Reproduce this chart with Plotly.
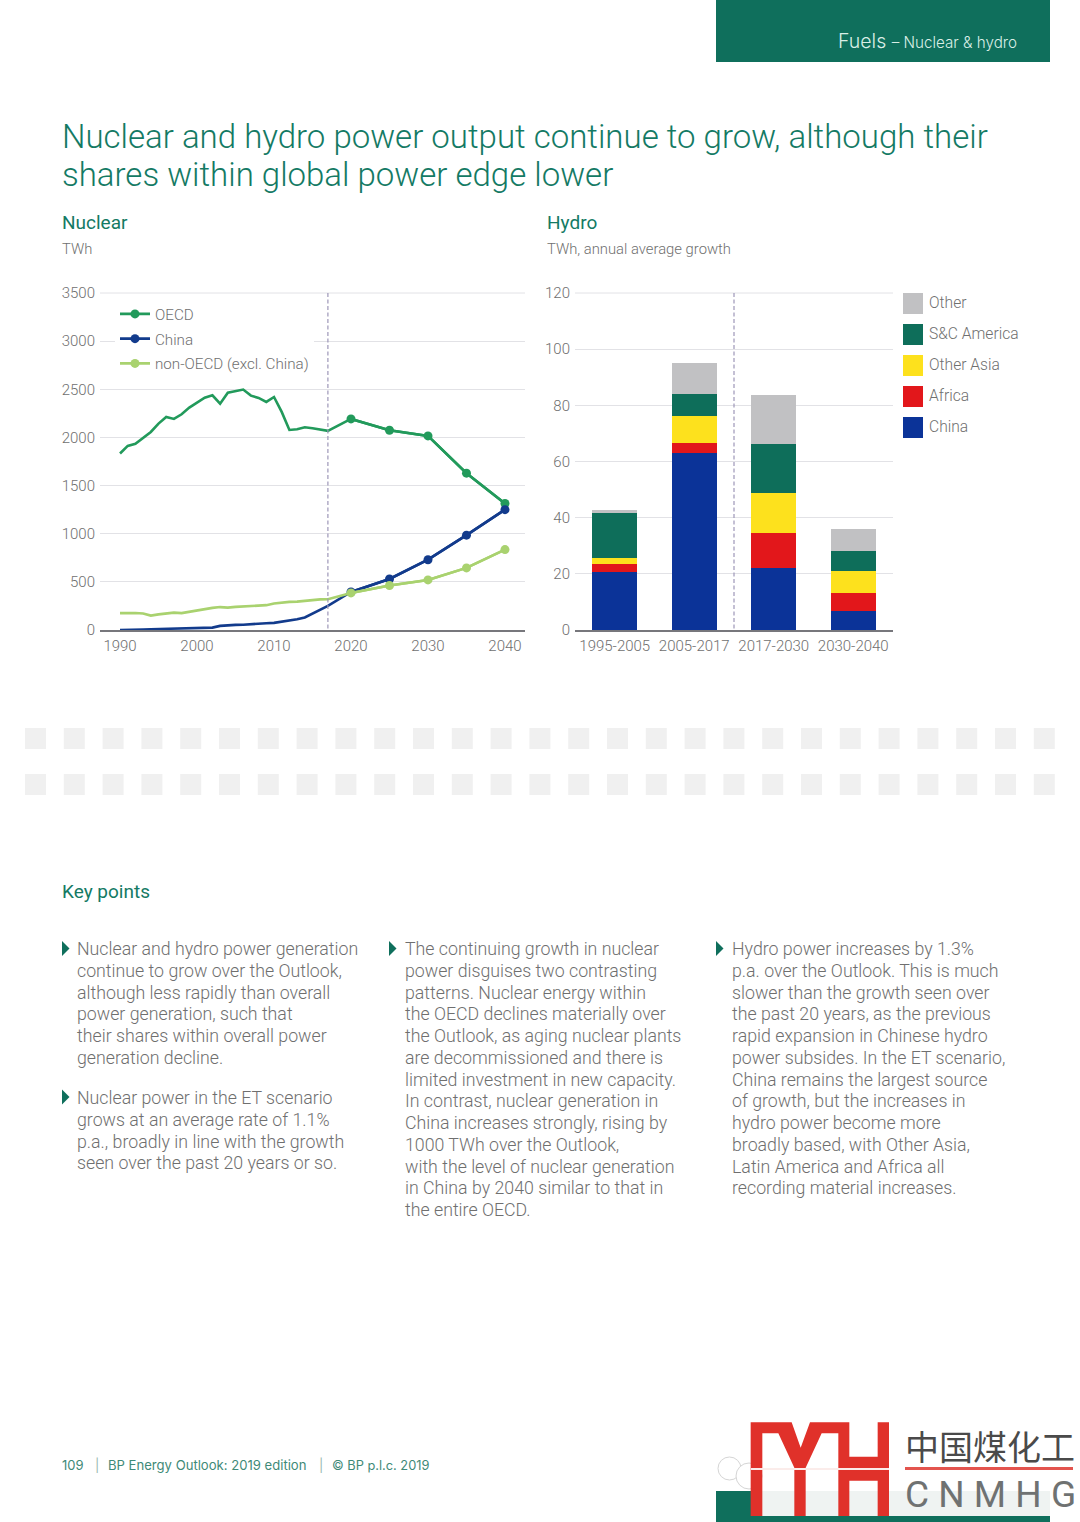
import plotly.graph_objects as go
from plotly.subplots import make_subplots

W, H = 1080, 1522
FONT = "Roboto"
WIDE = "Inter"
LIGHT = 300

years = list(range(1990, 2018)) + [2020, 2025, 2030, 2035, 2040]
oecd = [1833, 1912, 1933, 2000, 2057, 2144, 2213, 2192, 2240, 2310, 2358, 2413, 2438, 2351, 2465, 2480, 2497,
        2434, 2410, 2369, 2420, 2265, 2078, 2085, 2105, 2095, 2078, 2068, 2192, 2075, 2016, 1629, 1314]
china = [0, 0, 0, 5, 8, 10, 10, 12, 12, 13, 14, 18, 25, 43, 50, 53, 55, 62, 68, 70, 74, 86, 97, 112, 130, 170,
         210, 250, 395, 530, 730, 985, 1250]
non_oecd = [175, 178, 176, 172, 150, 162, 172, 180, 175, 190, 205, 220, 230, 238, 232, 240, 245, 250, 255, 258,
            275, 285, 292, 295, 302, 315, 318, 320, 385, 462, 520, 645, 835]

periods = ["1995-2005", "2005-2017", "2017-2030", "2030-2040"]
hydro_china = [20.5, 63.1, 22.0, 6.9]
hydro_africa = [3.1, 3.5, 12.6, 6.4]
hydro_other_asia = [2.1, 9.6, 14.3, 7.8]
hydro_sc_america = [15.9, 8.0, 17.5, 7.2]
hydro_other = [1.3, 11.0, 17.2, 7.5]

nuclear_ticks = [0, 500, 1000, 1500, 2000, 2500, 3000, 3500]
year_ticks = [1990, 2000, 2010, 2020, 2030, 2040]
hydro_ticks = [0, 20, 40, 60, 80, 100, 120]

title_lines = ["Nuclear and hydro power output continue to grow, although their",
               "shares within global power edge lower"]
col1 = ["Nuclear and hydro power generation", "continue to grow over the Outlook,", "although less rapidly than overall",
        "power generation, such that", "their shares within overall power", "generation decline."]
col1b = ["Nuclear power in the ET scenario", "grows at an average rate of 1.1%", "p.a., broadly in line with the growth",
         "seen over the past 20 years or so."]
col2 = ["The continuing growth in nuclear", "power disguises two contrasting", "patterns. Nuclear energy within",
        "the OECD declines materially over", "the Outlook, as aging nuclear plants", "are decommissioned and there is",
        "limited investment in new capacity.", "In contrast, nuclear generation in", "China increases strongly, rising by",
        "1000 TWh over the Outlook,", "with the level of nuclear generation", "in China by 2040 similar to that in",
        "the entire OECD."]
col3 = ["Hydro power increases by 1.3%", "p.a. over the Outlook. This is much", "slower than the growth seen over",
        "the past 20 years, as the previous", "rapid expansion in Chinese hydro", "power subsides. In the ET scenario,",
        "China remains the largest source", "of growth, but the increases in", "hydro power become more",
        "broadly based, with Other Asia,", "Latin America and Africa all", "recording material increases."]

GREEN = "#0f6f5c"
TITLE = "#147a64"
TXT = "#6f6f6f"
GRID = "#e2e2e6"
AXIS = "#77777c"
DASH = "#9d97b8"
OECD_C, CHINA_C, NON_C = "#229a5b", "#123b8c", "#a9d26f"
BAR = {"China": "#0b3398", "Africa": "#e2171b", "Other Asia": "#fde11d", "S&C America": "#0e6e5a", "Other": "#c1c1c3"}

fig = make_subplots(rows=1, cols=2)


def px(x):
    return x / W


def py(y):
    return 1 - y / H


annotations = []
shapes = []


def text(x, y, s, size, color=TXT, anchor="left", weight=LIGHT, family=FONT):
    f = dict(family=family, size=size, color=color, weight=weight)
    annotations.append(dict(text=s, x=px(x - 1), y=py(y), xref="paper", yref="paper", xanchor=anchor, yanchor="middle",
                            showarrow=False, font=f, borderpad=0, align="left"))


def rect(x0, y0, x1, y1, color, opacity=1, layer="below"):
    shapes.append(dict(type="rect", xref="paper", yref="paper", x0=px(x0), x1=px(x1), y0=py(y0), y1=py(y1),
                       fillcolor=color, line=dict(width=0), opacity=opacity, layer=layer))


def poly(points, color, layer="below"):
    d = "M" + " L".join(f"{px(a):.5f},{py(b):.5f}" for a, b in points) + " Z"
    shapes.append(dict(type="path", xref="paper", yref="paper", path=d, fillcolor=color, line=dict(width=0), layer=layer))


# Line chart: the whole line, then the 5-yearly projection points with markers (these carry the legend entry)
first_proj = years.index(2020)
for name, vals, col in [("OECD", oecd, OECD_C), ("China", china, CHINA_C), ("non-OECD (excl. China)", non_oecd, NON_C)]:
    fig.add_trace(go.Scatter(x=years, y=vals, name=name, mode="lines", legendgroup=name, showlegend=False,
                             line=dict(color=col, width=2.6)), row=1, col=1)
    fig.add_trace(go.Scatter(x=years[first_proj:], y=vals[first_proj:], name=name, mode="lines+markers", legendgroup=name,
                             line=dict(color=col, width=2.6), marker=dict(color=col, size=9, line=dict(width=0))),
                  row=1, col=1)

# Bars
for name, vals in [("China", hydro_china), ("Africa", hydro_africa), ("Other Asia", hydro_other_asia),
                   ("S&C America", hydro_sc_america), ("Other", hydro_other)]:
    fig.add_trace(go.Bar(x=periods, y=vals, name=name, marker=dict(color=BAR[name], line=dict(width=0)),
                         width=0.567, showlegend=False), row=1, col=2)

tickfont = dict(family=FONT, size=15, color=TXT, weight=LIGHT)
fig.update_layout(
    width=W, height=H, margin=dict(l=0, r=0, t=0, b=0, autoexpand=False), paper_bgcolor="white", plot_bgcolor="white",
    barmode="stack", autosize=False, font=dict(family=FONT),
    legend=dict(x=px(115), y=py(297.5), xanchor="left", yanchor="top", bgcolor="white",
                font=dict(family=FONT, size=15.2, color=TXT, weight=LIGHT),
                tracegroupgap=2, itemclick=False, itemdoubleclick=False, itemwidth=30, borderwidth=0),
)
# The value ranges run a hair past the top tick (one pixel).
fig.update_xaxes(row=1, col=1, domain=[px(100), px(525)], range=[1987.4, 2042.6], tickvals=year_ticks, automargin=False,
                 showgrid=False, showline=True, linecolor=AXIS, linewidth=1.5, ticks="", tickfont=tickfont, zeroline=False,
                 ticklabelstandoff=1)
fig.update_xaxes(row=1, col=2, domain=[px(575), px(893)], type="category", range=[-0.5, 3.5], showgrid=False, automargin=False,
                 showline=True, linecolor=AXIS, linewidth=1.5, ticks="", tickfont=tickfont, zeroline=False,
                 ticklabelstandoff=1)
fig.update_yaxes(row=1, col=1, domain=[py(630), py(292)], range=[0, 3500 * 338 / 337], tickvals=nuclear_ticks, gridcolor=GRID, automargin=False,
                 gridwidth=1, zeroline=False, ticks="", tickfont=tickfont, showline=False, ticklabelstandoff=4)
fig.update_yaxes(row=1, col=2, domain=[py(630), py(292)], range=[0, 120 * 338 / 337], tickvals=hydro_ticks, gridcolor=GRID, automargin=False,
                 gridwidth=1, zeroline=False, ticks="", tickfont=tickfont, showline=False, ticklabelstandoff=4)

# Top gridlines, drawn explicitly at the top tick of each value axis
shapes.append(dict(type="line", xref="x domain", yref="y", x0=0, x1=1, y0=nuclear_ticks[-1], y1=nuclear_ticks[-1],
                   line=dict(color=GRID, width=1), layer="below"))
shapes.append(dict(type="line", xref="x2 domain", yref="y2", x0=0, x1=1, y0=hydro_ticks[-1], y1=hydro_ticks[-1],
                   line=dict(color=GRID, width=1), layer="below"))

# Base-year dashed dividers (drawn from the top tick down so the dash reaches the top)
DASHSTYLE = dict(color=DASH, width=1.2, dash="4px,2.5px")
shapes.append(dict(type="line", xref="x", yref="y", x0=2017, x1=2017, y0=nuclear_ticks[-1], y1=0, line=DASHSTYLE, layer="above"))
shapes.append(dict(type="line", xref="x2", yref="y2", x0=1.5, x1=1.5, y0=hydro_ticks[-1], y1=0, line=DASHSTYLE, layer="above"))

# Bar legend
for i, name in enumerate(["Other", "S&C America", "Other Asia", "Africa", "China"]):
    top = 293 + i * 31
    rect(903, top, 923, top + 21, BAR[name])
    text(929, top + 10, name, 15.6)

# Page header
rect(716, 0, 1050, 62, GREEN)
annotations.append(dict(text='Fuels <span style="font-size:15.2px">– Nuclear &amp; hydro</span>', x=px(1019), y=py(40.5), xref="paper", yref="paper",
                        xanchor="right", yanchor="middle", showarrow=False, font=dict(family=WIDE, size=19.5, color="#d9eee6", weight=LIGHT)))
for i, s in enumerate(title_lines):
    text(62, 137 + i * 37, s, 33, TITLE)
text(62, 222, "Nuclear", 19, TITLE, weight=400)
text(62, 249, "TWh", 14.8)
text(547, 222, "Hydro", 19, TITLE, weight=400)
text(547, 249, "TWh, annual average growth", 14.8)

# Watermark squares
for y0 in (728, 774):
    for i in range(27):
        x0 = 25 + i * 38.8
        rect(x0, y0, x0 + 21, y0 + 21, "#f0f0f0")

# Key points
text(62, 892, "Key points", 19, TITLE, weight=400)
STEP = 21.75
for lines, x, y0 in [(col1, 77, 949), (col1b, 77, 1098), (col2, 405, 949), (col3, 732, 949)]:
    for i, s in enumerate(lines):
        text(x, y0 + i * STEP, s, 17.75)
for x, y in [(62, 948.5), (62, 1097), (389, 948.5), (716, 948.5)]:
    poly([(x, y - 7.5), (x + 7.5, y), (x, y + 7.5)], GREEN)

# Footer
FOOT = "#3f8a78"
text(62, 1465, "109", 13, FOOT, weight=400, family=WIDE)
text(95, 1465, "|", 13, "#9ab9b0", weight=400, family=WIDE)
text(108, 1465, "BP Energy Outlook: 2019 edition", 13.1, FOOT, weight=400, family=WIDE)
text(319, 1465, "|", 13, "#9ab9b0", weight=400, family=WIDE)
text(332, 1465, "© BP p.l.c. 2019", 12.8, FOOT, weight=400, family=WIDE)

# WeChat-style watermark bubbles
for x0, y0, x1, y1 in [(718, 1457, 741, 1480), (736, 1463, 762, 1489)]:
    shapes.append(dict(type="circle", xref="paper", yref="paper", x0=px(x0), x1=px(x1), y0=py(y0), y1=py(y1),
                       fillcolor="white", line=dict(color="#d5d5d5", width=1), layer="below"))

# Bottom band and logo
rect(716, 1491, 1050, 1522, GREEN)
rect(751, 1491, 1050, 1516, "#eff3f2")
RED = "#e0312a"
Z = lambda a, b: (710 + a / 3, 1415 + b / 3)
poly([Z(122, 22), Z(245, 22), Z(272, 98), Z(300, 22), Z(418, 22), Z(418, 125), Z(503, 125), Z(503, 22), Z(537, 22),
      Z(537, 303), Z(503, 303), Z(503, 197), Z(418, 197), Z(418, 303), Z(385, 303), Z(385, 55), Z(335, 55), Z(287, 158),
      Z(287, 303), Z(253, 303), Z(253, 158), Z(205, 55), Z(157, 55), Z(157, 303), Z(122, 303)], RED)
rect(751, 1468, 889, 1470, "#fbecea")
rect(905, 1467, 1073, 1470, "#e3544e")
text(905, 1445, "中国煤化工", 34, "#4a4a4a", family="Noto Sans CJK SC", weight=400)
text(905, 1494, "C N M H G", 37, "#6f7272", weight=400)

fig.update_layout(annotations=annotations, shapes=shapes)
fig.write_html("out.html", config={"displayModeBar": False},
               post_script="document.body.style.margin='0';document.documentElement.style.overflow='hidden';")
